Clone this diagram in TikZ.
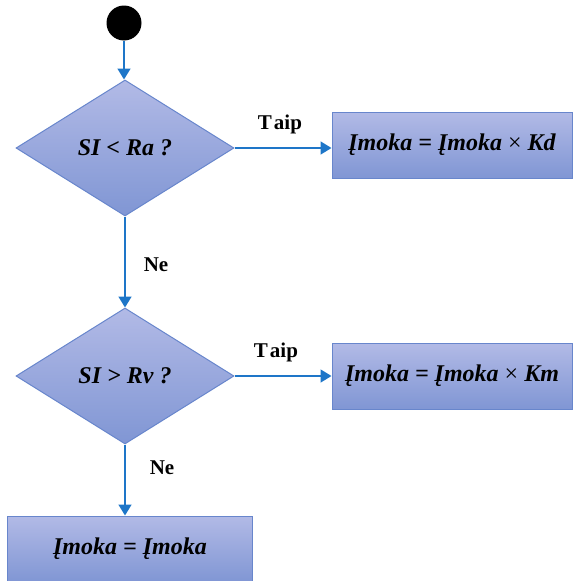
\documentclass[tikz,border=0pt]{standalone}
\usepackage{fontspec}
\setmainfont{Liberation Serif}
\usetikzlibrary{shapes.geometric,arrows.meta}
\definecolor{fillTop}{RGB}{178,186,230}
\definecolor{fillBot}{RGB}{128,150,212}
\definecolor{edgeC}{RGB}{104,134,204}
\definecolor{arrC}{RGB}{30,118,200}
\tikzset{
  shadedbox/.style={draw=edgeC, line width=1pt, top color=fillTop, bottom color=fillBot, inner sep=0pt},
  decision/.style={shadedbox, diamond, minimum width=218pt, minimum height=136pt, font=\fontsize{24}{26}\selectfont\bfseries\itshape},
  actionbox/.style={shadedbox, rectangle, minimum width=240pt, minimum height=66pt, font=\fontsize{24}{26}\selectfont\bfseries\itshape},
  flow/.style={draw=arrC, line width=1.6pt, -{Triangle[width=13pt,length=11pt]}},
  lbl/.style={font=\fontsize{21}{24}\selectfont\bfseries}
}
\newcommand{\tms}{{\mdseries\upshape ×}}
\begin{document}
\begin{tikzpicture}[x=1pt,y=-1pt]
\useasboundingbox (0,0) rectangle (573,581);
\node[circle, fill=black, minimum size=35pt, inner sep=0pt] (s) at (124,23) {};
\node[decision] (d1) at (125,148) {SI < Ra ?};
\node[decision] (d2) at (125,376) {SI > Rv ?};
\node[actionbox] (b1) at (452,145) {Įmoka = Įmoka \tms{} Kd};
\node[actionbox] (b2) at (452,376) {Įmoka = Įmoka \tms{} Km};
\node[actionbox, minimum width=245pt, minimum height=66pt] (b3) at (130,549) {Įmoka = Įmoka};
\draw[flow] (s.south) -- (s.south |- d1.north);
\draw[flow] (d1.east) -- (b1.west |- d1.east);
\draw[flow] (d1.south) -- (d2.north);
\draw[flow] (d2.east) -- (b2.west |- d2.east);
\draw[flow] (d2.south) -- (b3.north -| d2.south);
\node[lbl] (t1) at (280,124) {T\kern2pt aip};
\node[lbl] (t2) at (276,352) {T\kern2pt aip};
\node[lbl] (n1) at (156,265) {Ne};
\node[lbl] (n2) at (162,468) {Ne};
\end{tikzpicture}
\end{document}
